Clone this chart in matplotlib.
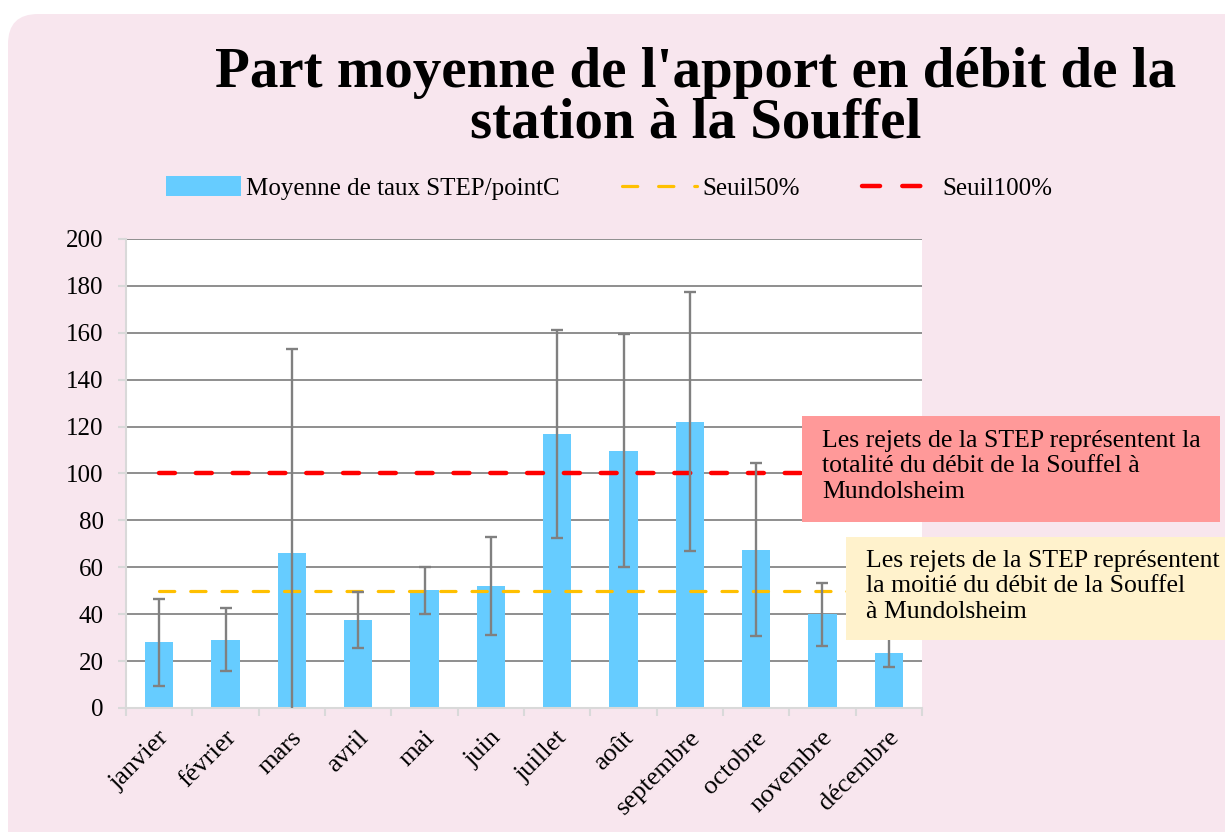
import matplotlib
matplotlib.use("Agg")
import matplotlib.pyplot as plt
import matplotlib.transforms as mtransforms
from matplotlib.patches import FancyBboxPatch, Rectangle, Patch
from matplotlib.lines import Line2D
import numpy as np

plt.rcParams['font.family'] = ['Liberation Serif', 'DejaVu Serif']
plt.rcParams['lines.scale_dashes'] = False

# donnees
mois = ["janvier", "février", "mars", "avril", "mai", "juin", "juillet",
        "août", "septembre", "octobre", "novembre", "décembre"]
moyenne = [28, 29.2, 66.2, 37.6, 50.2, 52, 116.9, 109.8, 122, 67.5, 40, 23.6]
ecart = [18.5, 13.5, 86.7, 12, 10, 21, 44.2, 49.5, 55.2, 36.8, 13.5, 6.3]
seuil50 = [50] * 12
seuil100 = [100] * 12

BLEU = "#66CCFF"
GRIS = "#808080"
JAUNE = "#FFC000"
ROUGE = "#FF0000"
STYLE50 = (0, (11, 11.5))
STYLE100 = (0, (11.5, 15))

fig = plt.figure(figsize=(12.25, 8.32), dpi=100, facecolor="white")

# fond rose arrondi
fond = FancyBboxPatch((0.08, -0.5), 12.5, 8.18 + 0.5,
                      boxstyle="round,pad=0,rounding_size=0.3",
                      transform=fig.dpi_scale_trans, facecolor="#F8E6EE",
                      edgecolor="none", zorder=-10)
fig.patches.append(fond)

ax = fig.add_axes([126 / 1225, 1 - 708 / 832, 796 / 1225, 469 / 832])
ax.set_facecolor("white")
x = np.arange(len(mois))

ax.bar(x, moyenne, width=0.43, color=BLEU, zorder=2)
ax.plot(x, seuil50, color=JAUNE, lw=2.3, linestyle=STYLE50,
        dash_capstyle="round", zorder=3)
ax.plot(x, seuil100, color=ROUGE, lw=3.2, linestyle=STYLE100,
        dash_capstyle="round", zorder=3)
ax.errorbar(x, moyenne, yerr=ecart, fmt="none", ecolor=GRIS, elinewidth=1.7,
            capsize=4.5, capthick=1.7, zorder=4)

ax.set_xlim(-0.5, len(mois) - 0.5)
ax.set_ylim(0, 200)
ax.set_yticks(range(0, 201, 20))
ax.yaxis.grid(True, color="#868686", lw=1.3, zorder=0)
ax.set_axisbelow(True)

for s in ["top", "right"]:
    ax.spines[s].set_visible(False)
for s in ["left", "bottom"]:
    ax.spines[s].set_color("#D9D9D9")
    ax.spines[s].set_linewidth(1.5)

ax.set_xticks(x)
ax.set_xticklabels(mois, rotation=45, ha="right", va="center",
                   rotation_mode="anchor", fontsize=19)
ax.tick_params(axis="x", length=0, pad=19)
decal = mtransforms.ScaledTranslation(5 / 72, 0, fig.dpi_scale_trans)
for lab in ax.get_xticklabels():
    lab.set_transform(lab.get_transform() + decal)
ax.set_xticks(np.arange(-0.5, len(mois)), minor=True)
ax.tick_params(axis="x", which="minor", length=6, width=1.5, color="#D9D9D9")
ax.tick_params(axis="y", length=6, width=1.5, color="#D9D9D9", labelsize=18,
               pad=10)

# titre
fig.text(0.568, 1 - 47 / 832, "Part moyenne de l'apport en débit de la\nstation à la Souffel",
         ha="center", va="top", fontsize=41, fontweight="bold", linespacing=0.95)

# legende
handles = [Patch(facecolor=BLEU, edgecolor="none"),
           Line2D([], [], color=JAUNE, lw=2.3, linestyle=(0, (11, 15)),
                  dash_capstyle="round"),
           Line2D([], [], color=ROUGE, lw=3.2, linestyle=(0, (13, 16)),
                  dash_capstyle="round")]
fig.legend(handles, ["Moyenne de taux STEP/pointC", "Seuil50%", "Seuil100%"],
           loc="center", bbox_to_anchor=(0.497, 1 - 188 / 832), ncol=3,
           frameon=False, fontsize=18, handlelength=3.0, handleheight=0.8,
           columnspacing=2.5, handletextpad=0.2)

# encadres
fig.patches.append(Rectangle((802 / 1225, 1 - 522 / 832), 418 / 1225, 106 / 832,
                             transform=fig.transFigure, facecolor="#FF9999",
                             edgecolor="none", zorder=5))
fig.text(822 / 1225, 1 - 430 / 832,
         "Les rejets de la STEP représentent la\ntotalité du débit de la Souffel à\nMundolsheim",
         ha="left", va="top", fontsize=18.5, linespacing=1.2, zorder=6)
fig.patches.append(Rectangle((846 / 1225, 1 - 640 / 832), 400 / 1225, 103 / 832,
                             transform=fig.transFigure, facecolor="#FFF2CC",
                             edgecolor="none", zorder=5))
fig.text(866 / 1225, 1 - 550 / 832,
         "Les rejets de la STEP représentent\nla moitié du débit de la Souffel\nà Mundolsheim",
         ha="left", va="top", fontsize=18.5, linespacing=1.2, zorder=6)

fig.savefig("out.png", dpi=100, facecolor="white")
